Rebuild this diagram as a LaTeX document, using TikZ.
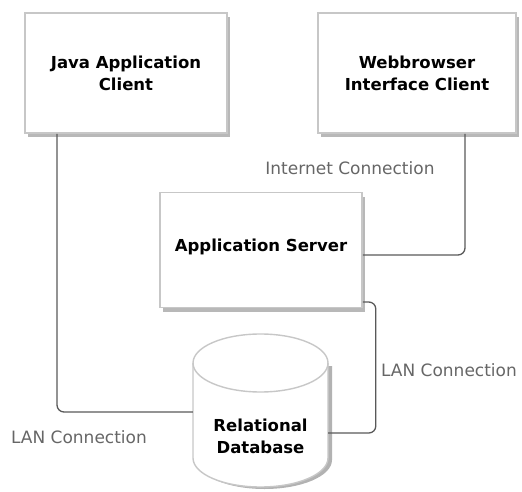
\documentclass[tikz,border=0pt]{standalone}
\usepackage{fontspec}
\setmainfont{DejaVu Sans}
\usetikzlibrary{shadows}
\begin{document}
\begin{tikzpicture}[x=1pt,y=-1pt,
  box/.style={draw=black!22,line width=1.6pt,fill=white,inner sep=0pt,
    align=center,font=\fontsize{16.5}{22}\selectfont\bfseries,
    drop shadow={shadow xshift=3pt,shadow yshift=-4pt,fill=black!35,opacity=0.8}},
  conn/.style={draw=black!65,line width=1.3pt,rounded corners=7pt},
  lbl/.style={text=black!60,font=\fontsize{17}{20}\selectfont,inner sep=0pt}]
\useasboundingbox (0,0) rectangle (522,492);
\node[box,minimum width=202pt,minimum height=120pt] (java) at (126,73)
  {Java Application\\Client};
\node[box,minimum width=198pt,minimum height=120pt] (web) at (417,73)
  {Webbrowser\\Interface Client};
\node[box,minimum width=202pt,minimum height=115pt] (app) at (261,250)
  {\raisebox{10pt}{Application Server}};
% cylinder
\fill[black!30] (197,366) -- (197,460) arc[start angle=180,end angle=360,x radius=67.5pt,y radius=29pt]
  -- (332,366) -- cycle;
\filldraw[fill=white,draw=black!22,line width=1.4pt]
  (193,363) -- (193,458) arc[start angle=180,end angle=360,x radius=67.5pt,y radius=29pt]
  -- (328,363) arc[start angle=0,end angle=180,x radius=67.5pt,y radius=29pt] -- cycle;
\draw[black!22,line width=1.4pt] (193,363) arc[start angle=180,end angle=360,x radius=67.5pt,y radius=29pt];
\node[font=\fontsize{16.5}{22}\selectfont\bfseries,align=center,minimum width=135pt,inner sep=0pt] (db) at (260.5,436)
  {Relational\\Database};
% connectors
\draw[conn] ([xshift=-69pt]java.south) |- ([yshift=24pt]db.west);
\draw[conn] ([xshift=48pt]web.south) |- ([yshift=-5pt]app.east);
\draw[conn] ([yshift=-52pt]app.east) -- ++(13pt,0) |- ([yshift=3pt]db.east);
% labels
\node[lbl] (l1) at (350,168) {Internet Connection};
\node[lbl] (l2) at (449,370) {LAN Connection};
\node[lbl] (l3) at (79,437) {LAN Connection};
\end{tikzpicture}
\end{document}
